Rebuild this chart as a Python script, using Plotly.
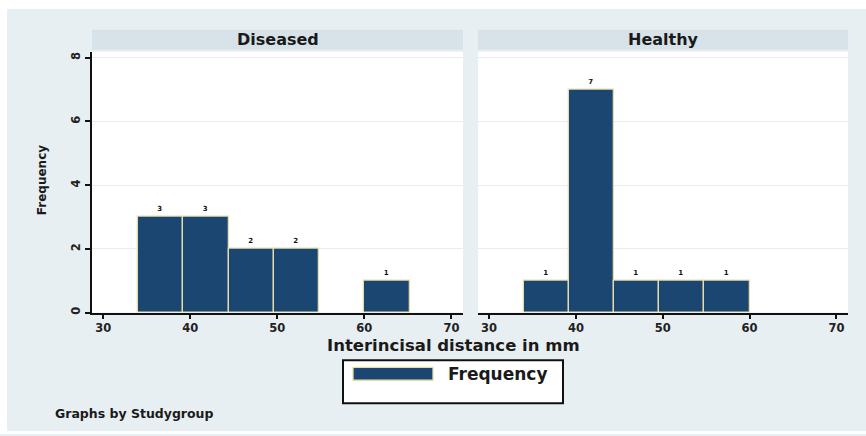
import plotly.graph_objects as go

# Histogram of interincisal distance, split by study group
groups = ["Diseased", "Healthy"]
bin_edges = [34.0, 39.2, 44.4, 49.6, 54.8, 60.0, 65.2]
diseased_counts = [3, 3, 2, 2, 0, 1]
healthy_counts = [1, 7, 1, 1, 1, 0]
x_ticks = [30, 40, 50, 60, 70]
y_ticks = [0, 2, 4, 6, 8]

W, H = 866, 436
BG = "#E8EFF2"
STRIP = "#D7E2E9"
BAR = "#1B4672"
BAR_EDGE = "#E6DDAA"
FONT = "DejaVu Sans"


def px(x):
    return x / W


def py(y):
    return 1 - y / H


centers = [(a + b) / 2 for a, b in zip(bin_edges[:-1], bin_edges[1:])]
widths = [b - a for a, b in zip(bin_edges[:-1], bin_edges[1:])]

fig = go.Figure()
for i, counts in enumerate([diseased_counts, healthy_counts]):
    axis = "" if i == 0 else "2"
    fig.add_trace(go.Bar(
        x=centers, y=counts, width=widths,
        marker=dict(color=BAR,
                    line=dict(color=BAR_EDGE, width=[1.3 if c else 0 for c in counts])),
        text=[str(c) if c else "" for c in counts],
        textposition="outside",
        textfont=dict(family=FONT, size=7, color="#111", weight="bold"),
        cliponaxis=False,
        xaxis="x" + axis, yaxis="y" + axis,
        showlegend=False, hoverinfo="skip",
    ))

panels = [(92, 463), (478, 848)]
plot_top, plot_bot = 52, 314
y_top = (plot_bot - plot_top) / 32.0
x_rng = [28.72, 71.33]

tickfont = dict(family=FONT, size=11.5, color="#222", weight="bold")
xaxis_common = dict(
    range=x_rng, tickvals=x_ticks, ticks="outside", ticklen=4, tickwidth=1.5,
    tickcolor="#111", showline=True, linecolor="#111", linewidth=2,
    showgrid=False, zeroline=False, tickfont=tickfont, fixedrange=True,
)
yaxis_common = dict(
    range=[0, y_top], tickvals=y_ticks, showgrid=True, gridcolor="#E6EDF1",
    gridwidth=1, zeroline=False, fixedrange=True,
    domain=[py(plot_bot), py(plot_top)],
)

fig.update_layout(
    width=W, height=H,
    margin=dict(l=0, r=0, t=0, b=0),
    paper_bgcolor=BG, plot_bgcolor="white",
    bargap=0,
    xaxis=dict(domain=[px(panels[0][0]), px(panels[0][1])], anchor="y", **xaxis_common),
    xaxis2=dict(domain=[px(panels[1][0]), px(panels[1][1])], anchor="y2", **xaxis_common),
    yaxis=dict(anchor="x", ticks="outside", ticklen=5, tickwidth=1.5, tickcolor="#111",
               showline=True, linecolor="#111", linewidth=2, tickangle=-90,
               tickfont=tickfont, **yaxis_common),
    yaxis2=dict(anchor="x2", matches="y", showticklabels=False, ticks="",
                showline=False, **yaxis_common),
)

shapes = [
    # white frame edges at top, left and bottom
    dict(type="rect", xref="paper", yref="paper", x0=0, x1=1, y0=py(9), y1=1,
         fillcolor="white", line=dict(width=0), layer="below"),
    dict(type="rect", xref="paper", yref="paper", x0=0, x1=px(7), y0=0, y1=1,
         fillcolor="white", line=dict(width=0), layer="below"),
    dict(type="rect", xref="paper", yref="paper", x0=0, x1=1, y0=0, y1=py(433),
         fillcolor="white", line=dict(width=0), layer="below"),
]
annotations = []
for (x0, x1), name in zip(panels, groups):
    shapes.append(dict(type="rect", xref="paper", yref="paper",
                       x0=px(x0), x1=px(x1), y0=py(50), y1=py(30),
                       fillcolor=STRIP, line=dict(width=0)))
    annotations.append(dict(text=name, xref="paper", yref="paper",
                            x=px((x0 + x1) / 2), y=py(40), showarrow=False,
                            font=dict(family=FONT, size=16, color="#1a1a1a", weight="bold"),
                            xanchor="center", yanchor="middle"))

# axis titles
annotations.append(dict(text="Interincisal distance in mm", xref="paper", yref="paper",
                        x=px(453), y=py(347), showarrow=False,
                        font=dict(family=FONT, size=16.5, color="#1a1a1a", weight="bold"),
                        xanchor="center", yanchor="middle"))
annotations.append(dict(text="Frequency", xref="paper", yref="paper",
                        x=px(42), y=py(181), showarrow=False, textangle=-90,
                        font=dict(family=FONT, size=12, color="#1a1a1a", weight="bold"),
                        xanchor="center", yanchor="middle"))

# legend box
shapes.append(dict(type="rect", xref="paper", yref="paper",
                   x0=px(343), x1=px(563), y0=py(405), y1=py(362),
                   fillcolor="white", line=dict(color="#111", width=2)))
shapes.append(dict(type="rect", xref="paper", yref="paper",
                   x0=px(353), x1=px(433), y0=py(382), y1=py(369),
                   fillcolor=BAR, line=dict(color=BAR_EDGE, width=1.3)))
annotations.append(dict(text="Frequency", xref="paper", yref="paper",
                        x=px(446), y=py(376), showarrow=False,
                        font=dict(family=FONT, size=17, color="#1a1a1a", weight="bold"),
                        xanchor="left", yanchor="middle"))

# note
annotations.append(dict(text="Graphs by Studygroup", xref="paper", yref="paper",
                        x=px(53), y=py(415), showarrow=False,
                        font=dict(family=FONT, size=12.5, color="#1a1a1a", weight="bold"),
                        xanchor="left", yanchor="middle"))

fig.update_layout(shapes=shapes, annotations=annotations)
fig.write_html("out.html")
